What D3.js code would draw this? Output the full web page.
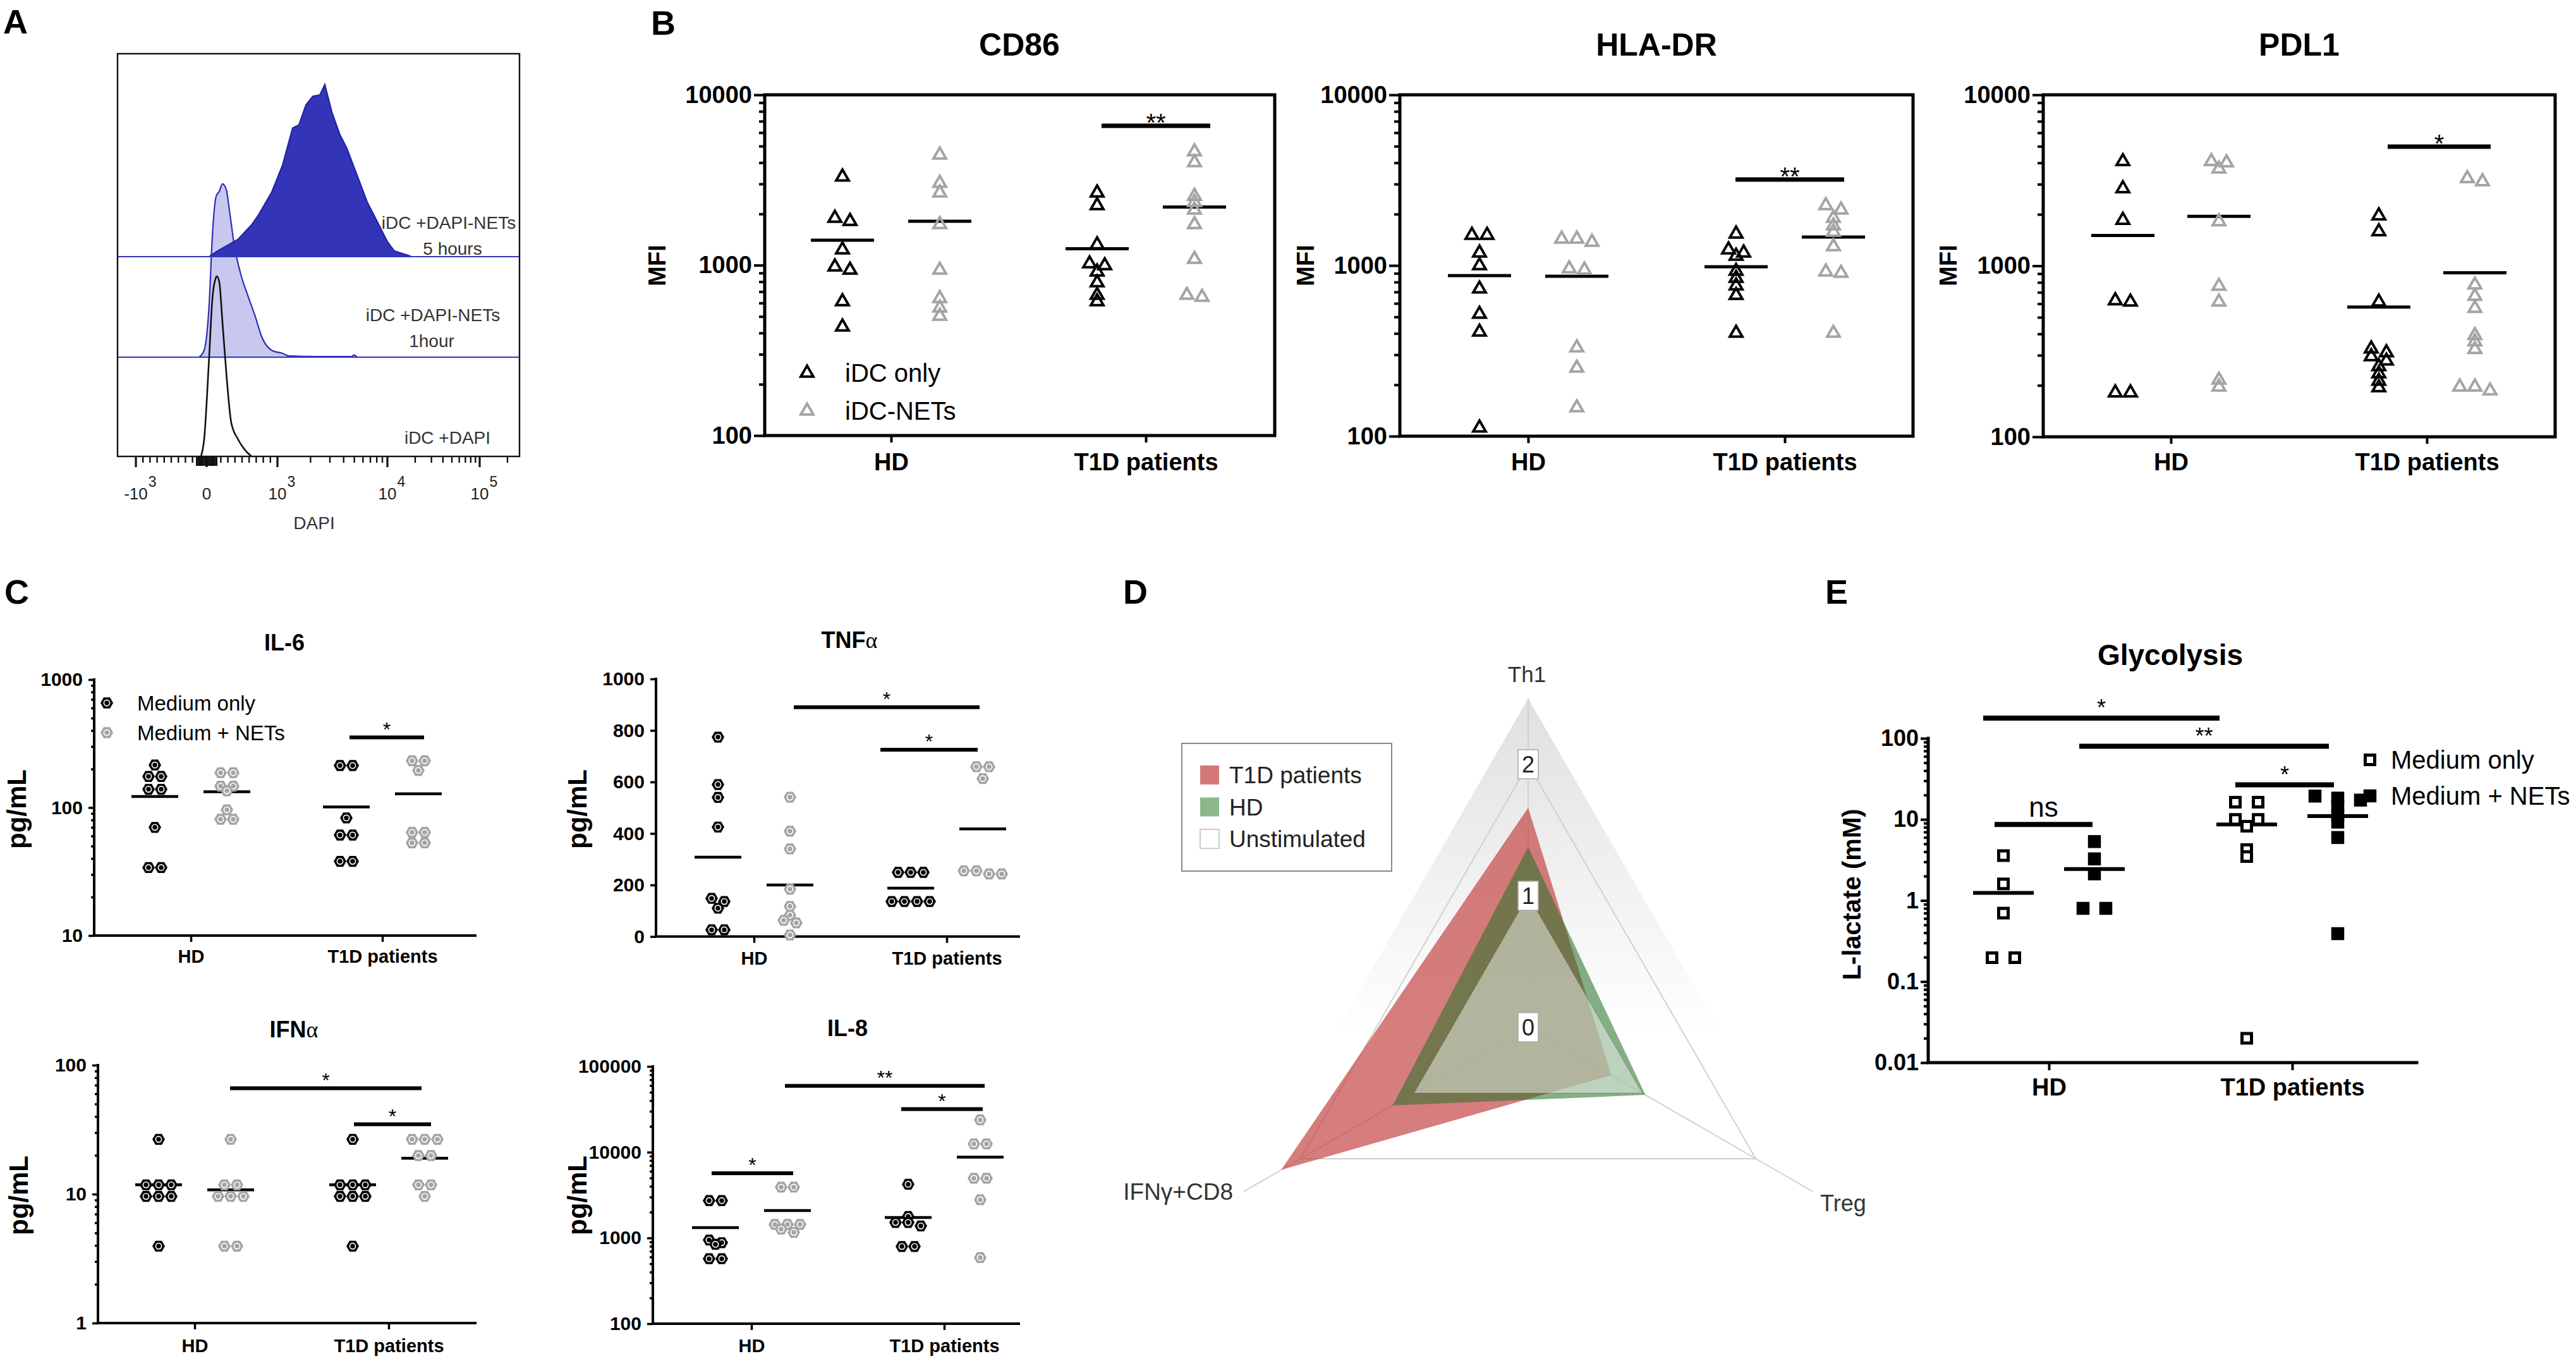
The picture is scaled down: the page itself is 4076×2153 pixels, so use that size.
<!DOCTYPE html>
<html>
<head>
<meta charset="utf-8">
<script src="https://cdn.jsdelivr.net/npm/d3@7/dist/d3.min.js"></script>
<style>
html,body{margin:0;padding:0;background:#fff;}
svg{display:block;}
</style>
</head>
<body>
<svg id="fig" width="4076" height="2153" xmlns="http://www.w3.org/2000/svg"></svg>
<script>
// ================= DATA =================
const groups = ["HD", "T1D patients"];

// ---- Panel A: flow cytometry histograms  [DAPI value, % of mode]
const histAxisTicks = [-1000, 0, 1000, 10000, 100000];
const histAxisLabels = [["-10", "3"], ["0", ""], ["10", "3"], ["10", "4"], ["10", "5"]];
const hist5h = [[36,0],[152,3.1],[446,9.7],[634,17.6],[732,23.1],[920,35.9],[1112,50.7],[1374,71.4],[1568,73.1],[1813,84.1],[2098,89],[2428,89.7],[2697,95.5],[3121,80.3],[3704,67.6],[4286,60],[5298,45.2],[6553,30.3],[8106,19.3],[10000,8.3],[11895,3.1],[16830,0.7],[18200,0]];
const hist1h = [[-107,0],[-36,3.8],[36,30],[80,66.9],[134,89.3],[179,92.1],[223,96.2],[277,93.1],[321,81.7],[393,61.4],[491,44.8],[589,33.4],[688,22.4],[777,11.4],[920,3.8],[1112,2.1],[1269,0.7],[2428,0.3],[4700,0.3],[4963,1.2],[5298,0]];
const histUnstim = [[-80,0],[-36,9.3],[36,55.9],[80,87.2],[125,98.6],[143,100],[179,96.6],[223,74.5],[277,46.6],[348,18.6],[446,9.3],[536,3.8],[634,0]];
const histLabels = ["iDC +DAPI-NETs", "5 hours", "iDC +DAPI-NETs", "1hour", "iDC +DAPI"];

// ---- Panel B: MFI   columns = [HD iDC only, HD iDC-NETs, T1D iDC only, T1D iDC-NETs]
const bSeries = ["iDC only", "iDC-NETs"];
const bTicks = [100, 1000, 10000];
const cd86 = [
  [3300, 1890, 1810, 1233, 979, 937, 612, 435],
  [4440, 3030, 2660, 1735, 937, 639, 562, 503],
  [2660, 2243, 1321, 1021, 995, 914, 790, 667, 612],
  [4640, 4010, 2545, 2340, 2113, 1735, 1085, 667, 650]];
const cd86Mean = [1400, 1810, 1248, 2197];
const cd86Sig = [{from: 2, to: 3, at: 6580, label: "**"}];
const hladr = [
  [1507, 1507, 1186, 1000, 730, 519, 408, 112],
  [1431, 1372, 1431, 958, 942, 330, 251, 147],
  [1531, 1186, 1238, 1136, 927, 843, 761, 669, 402],
  [2249, 2118, 1897, 1710, 1570, 1291, 918, 903, 402]];
const hladrMean = [873, 865, 984, 1468];
const hladrSig = [{from: 2, to: 3, at: 3190, label: "**"}];
const pdl1 = [
  [4080, 2830, 1849, 626, 615, 181, 181],
  [4015, 3690, 4080, 1815, 761, 615, 196, 215],
  [1963, 1585, 615, 311, 327, 295, 278, 258, 234, 212, 194],
  [3110, 3245, 774, 664, 565, 392, 360, 325, 196, 186, 196]];
const pdl1Mean = [1506, 1945, 574, 910];
const pdl1Sig = [{from: 2, to: 3, at: 4980, label: "*"}];

// ---- Panel C: cytokines (pg/mL)  columns = [HD medium, HD +NETs, T1D medium, T1D +NETs]
const cSeries = ["Medium only", "Medium + NETs"];
const il6 = [
  [215, 175, 175, 139, 139, 70, 34, 34],
  [187, 187, 147, 147, 135, 96, 81, 81],
  [213, 213, 83, 61, 61, 38, 38],
  [232, 232, 195, 64, 64, 53, 53]];
const il6Mean = [122, 133, 101, 128];
const il6Sig = [{from: 2, to: 3, at: 353, label: "*"}];
const tnfTicks = [0, 200, 400, 600, 800, 1000];
const tnf = [
  [774, 590, 540, 425, 148, 136, 110, 26, 26],
  [541, 409, 340, 184, 117, 83, 63, 53, 6],
  [249, 249, 249, 136, 136, 136, 136],
  [659, 659, 613, 255, 255, 243, 243]];
const tnfMean = [308, 200, 188, 418];
const tnfSig = [{from: 1, to: 3, at: 890, label: "*"}, {from: 2, to: 3, at: 725, label: "*"}];
const ifna = [
  [26.6, 11.8, 11.8, 11.8, 9.6, 9.6, 9.6, 3.95],
  [26.6, 11.8, 11.8, 9.6, 9.6, 9.6, 3.95, 3.95],
  [26.6, 11.8, 11.8, 11.8, 9.6, 9.6, 9.6, 3.95],
  [26.6, 26.6, 26.6, 19.9, 19.9, 11.8, 11.8, 9.6]];
const ifnaMean = [11.8, 10.8, 11.8, 19.0];
const ifnaSig = [{from: 1, to: 3, at: 66.2, label: "*"}, {from: 2, to: 3, at: 34.8, label: "*"}];
const il8 = [
  [2725, 2725, 946, 881, 843, 573, 573],
  [3917, 3917, 1439, 1439, 1439, 1266, 1161],
  [4227, 1778, 1515, 1515, 1380, 795, 795],
  [23780, 12480, 12480, 4966, 4966, 2786, 590]];
const il8Mean = [1321, 2084, 1733, 8750];
const il8Sig = [{from: 0, to: 1, at: 5690, label: "*"}, {from: 1, to: 3, at: 59400, label: "**"}, {from: 2, to: 3, at: 31750, label: "*"}];

// ---- Panel D: radar
const radarAxes = ["Th1", "Treg", "IFNγ+CD8"];
const radarTicks = [0, 1, 2];
const radarSeries = ["T1D patients", "HD", "Unstimulated"];
const radarT1D = [1.67, 0.73, 2.17];
const radarHD = [1.37, 1.03, 1.19];
const radarUnstim = [1, 1, 1];

// ---- Panel E: glycolysis (L-lactate mM)
const eSeries = ["Medium only", "Medium + NETs"];
const eTicks = [0.01, 0.1, 1, 10, 100];
const lactate = [
  [3.57, 1.60, 0.697, 0.197, 0.197],
  [5.33, 3.26, 2.13, 0.80, 0.80],
  [16.3, 16.3, 10.0, 8.26, 10.0, 4.25, 3.49, 0.02],
  [19.4, 18.3, 17.3, 14.7, 11.3, 9.27, 5.98, 0.39]];
const lactateMean = [1.24, 2.44, 8.67, 11.0];
const lactateSig = [{from: 0, to: 2, at: 178, label: "*"}, {from: 1, to: 3, at: 79.8, label: "**"}, {from: 2, to: 3, at: 26.7, label: "*"}, {from: 0, to: 1, at: 8.67, label: "ns"}];

// ================= DRAWING =================
const FONT = "'Liberation Sans', Arial, Helvetica, sans-serif";
const SERIF = "'Liberation Serif', 'DejaVu Serif', serif";
const svg = d3.select("#fig");
svg.append("rect").attr("width", 4076).attr("height", 2153).attr("fill", "#fff");
const defs = svg.append("defs");

function txt(g, x, y, s, fs, o = {}) {
  return g.append("text").attr("x", x).attr("y", y).text(s)
    .attr("font-family", FONT).attr("font-size", fs)
    .attr("font-weight", o.bold ? "bold" : "normal")
    .attr("text-anchor", o.anchor || "start")
    .attr("fill", o.fill || "#000");
}

// panel letters
[["A", 5, 53], ["B", 1030, 55], ["C", 7, 955], ["D", 1777, 955], ["E", 2888, 955]]
  .forEach(([l, x, y]) => txt(svg, x, y, l, 54, {bold: true}));

// ---------- markers ----------
const GRAY = "#a4a4a4";
function drawMarker(g, type, x, y) {
  if (type === "triK" || type === "triG") {
    g.append("path").attr("d", d3.symbol(d3.symbolTriangle, 170)())
      .attr("transform", `translate(${x},${y})`).attr("fill", "none")
      .attr("stroke", type === "triK" ? "#000" : GRAY).attr("stroke-width", 4).attr("stroke-linejoin", "miter");
  } else if (type === "hexK" || type === "hexG") {
    const c = type === "hexK" ? "#000" : GRAY;
    const r = 10;
    const pts = d3.range(6).map(i => [r * Math.cos(i * Math.PI / 3), r * Math.sin(i * Math.PI / 3)]);
    const gg = g.append("g").attr("transform", `translate(${x},${y})`);
    gg.append("path").attr("d", "M" + pts.map(p => p.join(",")).join("L") + "Z").attr("fill", c);
    gg.append("circle").attr("r", 4.6).attr("fill", c).attr("stroke", "#fff").attr("stroke-width", 1.7);
  } else if (type === "sqOpen") {
    g.append("path").attr("d", d3.symbol(d3.symbolSquare, 225)())
      .attr("transform", `translate(${x},${y})`).attr("fill", "#fff").attr("stroke", "#000").attr("stroke-width", 5);
  } else if (type === "sqFill") {
    g.append("path").attr("d", d3.symbol(d3.symbolSquare, 420)())
      .attr("transform", `translate(${x},${y})`).attr("fill", "#000");
  }
}

function layoutColumn(vals, y, spacing, thr) {
  const pts = vals.map(v => ({v, y: y(v)})).sort((a, b) => a.y - b.y);
  const rows = [];
  let cur = null;
  for (const p of pts) {
    if (!cur || p.y - cur[0].y > thr) { cur = [p]; rows.push(cur); } else cur.push(p);
  }
  rows.forEach(r => r.forEach((p, i) => p.dx = (i - (r.length - 1) / 2) * spacing));
  return pts;
}

// ---------- generic column-scatter panel ----------
function dotPanel(o) {
  const g = svg.append("g");
  const y = (o.log ? d3.scaleLog() : d3.scaleLinear()).domain(o.domain).range([o.yBottom, o.yTop]);
  const xc = d3.scalePoint().domain(groups).range(o.cats);
  const xs = d3.scalePoint().domain([0, 1]).range([-o.sub, o.sub]);
  const colX = i => xc(groups[Math.floor(i / 2)]) + xs(i % 2);

  if (o.box) {
    g.append("rect").attr("x", o.xLeft).attr("y", o.yTop).attr("width", o.xRight - o.xLeft)
      .attr("height", o.yBottom - o.yTop).attr("fill", "none").attr("stroke", "#000").attr("stroke-width", o.axisW);
  } else {
    g.append("path").attr("d", `M${o.xLeft},${o.yTop}V${o.yBottom}H${o.xRight}`)
      .attr("fill", "none").attr("stroke", "#000").attr("stroke-width", o.axisW).attr("stroke-linecap", "square");
  }
  if (o.log) {
    const minors = [];
    for (let d = o.domain[0]; d < o.domain[1] * 0.999; d *= 10) for (let k = 2; k <= 9; k++) minors.push(d * k);
    const ma = g.append("g").attr("transform", `translate(${o.xLeft},0)`)
      .call(d3.axisLeft(y).tickValues(minors).tickFormat("").tickSize(o.minorL).tickSizeOuter(0));
    ma.select(".domain").remove();
    ma.selectAll("line").attr("stroke", "#000").attr("stroke-width", o.tickW);
  }
  const ya = g.append("g").attr("transform", `translate(${o.xLeft},0)`)
    .call(d3.axisLeft(y).tickValues(o.ticks).tickFormat(d => String(d)).tickSize(o.tickL).tickPadding(o.tickPad).tickSizeOuter(0));
  ya.select(".domain").remove();
  ya.selectAll("line").attr("stroke", "#000").attr("stroke-width", o.tickW);
  ya.selectAll("text").attr("font-family", FONT).attr("font-size", o.tickFs).attr("font-weight", "bold").attr("fill", "#000");
  const xa = g.append("g").attr("transform", `translate(0,${o.yBottom})`)
    .call(d3.axisBottom(xc).tickSize(o.xTickL).tickSizeOuter(0)
      .tickPadding(o.catBase - o.yBottom - o.xTickL - 0.71 * o.catFs));
  xa.select(".domain").remove();
  xa.selectAll("line").attr("stroke", "#000").attr("stroke-width", o.tickW);
  xa.selectAll("text").attr("font-family", FONT).attr("font-size", o.catFs).attr("font-weight", "bold").attr("fill", "#000");

  o.means.forEach((m, i) => {
    g.append("line").attr("x1", colX(i) - o.meanHalf).attr("x2", colX(i) + o.meanHalf)
      .attr("y1", y(m)).attr("y2", y(m)).attr("stroke", "#000").attr("stroke-width", o.meanW);
  });
  o.values.forEach((vals, i) => {
    layoutColumn(vals, y, o.spacing, o.thr).forEach(p => drawMarker(g, o.marker[i % 2], colX(i) + p.dx, p.y));
  });
  o.sig.forEach((s, j) => {
    const x1 = colX(s.from) + o.sigExt[j][0], x2 = colX(s.to) + o.sigExt[j][1], yy = y(s.at);
    g.append("line").attr("x1", x1).attr("x2", x2).attr("y1", yy).attr("y2", yy)
      .attr("stroke", "#000").attr("stroke-width", o.sigW);
    if (s.label === "ns") {
      txt(g, (x1 + x2) / 2, yy - o.starGap + 0.26 * 44, "ns", 44, {anchor: "middle"});
    } else {
      txt(g, (x1 + x2) / 2, yy - o.starGap + 0.57 * o.starFs, s.label, o.starFs, {anchor: "middle"});
    }
  });
  const tt = g.append("text").attr("x", o.titleX).attr("y", o.titleY).attr("text-anchor", "middle")
    .attr("font-family", FONT).attr("font-size", o.titleFs).attr("font-weight", "bold");
  o.title.forEach(s => {
    const ts = tt.append("tspan").text(s.t);
    if (s.serif) ts.attr("font-family", SERIF).attr("font-weight", "normal");
  });
  g.append("text").attr("transform", `translate(${o.ylabX},${o.ylabY}) rotate(-90)`)
    .attr("text-anchor", "middle").attr("font-family", FONT).attr("font-size", o.ylabFs)
    .attr("font-weight", "bold").text(o.ylab);
  return g;
}

// ---------- Panel A ----------
(function panelA() {
  const g = svg.append("g");
  const L = 186, R = 822, T = 85, B = 722;
  const tA = v => Math.abs(v) <= 1000 ? v / 1000 : Math.sign(v) * (1 + Math.log10(Math.abs(v) / 1000));
  const xA = d3.scaleLinear().domain([-1, 0, 1, 2, 3]).range([215, 327, 439, 613, 759]);
  const X = v => xA(tA(v));
  const hA = d3.scaleLinear().domain([0, 100]).range([0, 285]);
  const base5 = 406, base1 = 565;
  defs.append("clipPath").attr("id", "clipA").append("rect").attr("x", L).attr("y", T).attr("width", R - L).attr("height", B - T);
  const plot = g.append("g").attr("clip-path", "url(#clipA)");
  const area = base => d3.area().x(d => X(d[0])).y0(base).y1(d => base - hA(d[1]));
  const line = base => d3.line().x(d => X(d[0])).y(d => base - hA(d[1]));

  plot.append("path").datum(hist1h).attr("d", area(base1).curve(d3.curveMonotoneX)).attr("fill", "#c8c8ee");
  plot.append("path").datum(hist1h).attr("d", line(base1).curve(d3.curveMonotoneX))
    .attr("fill", "none").attr("stroke", "#2d2db8").attr("stroke-width", 2.2);
  plot.append("line").attr("x1", L).attr("x2", R).attr("y1", base1).attr("y2", base1).attr("stroke", "#3535c0").attr("stroke-width", 2.2);
  plot.append("path").datum(hist5h).attr("d", area(base5)).attr("fill", "#3434b8");
  plot.append("path").datum(hist5h).attr("d", line(base5)).attr("fill", "none").attr("stroke", "#2222a6").attr("stroke-width", 2.2);
  plot.append("line").attr("x1", L).attr("x2", R).attr("y1", base5).attr("y2", base5).attr("stroke", "#3535c0").attr("stroke-width", 2.2);
  plot.append("path").datum(histUnstim).attr("d", line(B).curve(d3.curveMonotoneX))
    .attr("fill", "none").attr("stroke", "#111").attr("stroke-width", 2.6);
  g.append("rect").attr("x", L).attr("y", T).attr("width", R - L).attr("height", B - T)
    .attr("fill", "none").attr("stroke", "#111").attr("stroke-width", 2.4);

  const minors = [...d3.range(-900, -100, 100), ...d3.range(200, 1000, 100), ...d3.range(2000, 10000, 1000),
    ...d3.range(20000, 100000, 10000), 200000];
  const cluster = d3.range(-140, 141, 20).filter(v => v !== 0);
  const tk = (v, len, w) => g.append("line").attr("x1", X(v)).attr("x2", X(v)).attr("y1", B).attr("y2", B + len)
    .attr("stroke", "#111").attr("stroke-width", w);
  minors.forEach(v => tk(v, 10, 2.4));
  cluster.forEach(v => tk(v, 15, 2.6));
  histAxisTicks.forEach(v => tk(v, 17, 3.2));
  histAxisTicks.forEach((v, i) => {
    const [b, s] = histAxisLabels[i];
    const t = txt(g, X(v), 790, b, 26, {anchor: "middle", fill: "#222"});
    if (s) {
      const w = t.node().getComputedTextLength();
      txt(g, X(v) + w / 2 + 1, 770, s, 23, {fill: "#222"});
    }
  });
  txt(g, 497, 837, "DAPI", 28, {anchor: "middle", fill: "#333"});

  const lp = [[710, 362], [716, 403], [685, 508], [683, 549], [708, 702]];
  histLabels.forEach((s, i) => txt(g, lp[i][0], lp[i][1], s, 28, {anchor: "middle", fill: "#333"}));
})();

// ---------- Panel B ----------
const bCommon = {
  log: true, domain: [100, 10000], ticks: bTicks, box: true, axisW: 5, tickW: 4, tickL: 17, minorL: 9,
  tickFs: 38, tickPad: 3, xTickL: 11, catFs: 38, catBase: 744, yTop: 150, titleY: 88, titleFs: 50,
  ylab: "MFI", ylabY: 420, ylabFs: 38, meanHalf: 50, meanW: 5, marker: ["triK", "triG"],
  spacing: 24, thr: 8, sigW: 7, starFs: 40, starGap: 14
};
dotPanel({...bCommon, title: [{t: "CD86"}], titleX: 1613, ylabX: 1053, xLeft: 1210, xRight: 2017, yBottom: 689,
  cats: [1410, 1813], sub: 77, values: cd86, means: cd86Mean, sig: cd86Sig, sigExt: [[7, 25]]});
dotPanel({...bCommon, title: [{t: "HLA-DR"}], titleX: 2621, ylabX: 2079, xLeft: 2215, xRight: 3027, yBottom: 690,
  cats: [2418, 2824], sub: 77, values: hladr, means: hladrMean, sig: hladrSig, sigExt: [[-1, 17]]});
dotPanel({...bCommon, title: [{t: "PDL1"}], titleX: 3638, ylabX: 3096, xLeft: 3233, xRight: 4043, yBottom: 691,
  cats: [3435, 3840], sub: 76, values: pdl1, means: pdl1Mean, sig: pdl1Sig, sigExt: [[14, 25]]});
(function () {
  const g = svg.append("g");
  bSeries.forEach((s, i) => {
    drawMarker(g, i === 0 ? "triK" : "triG", 1277, 590 + i * 60);
    txt(g, 1337, 604 + i * 60, s, 40);
  });
})();

// ---------- Panel C ----------
const cCommon = {
  box: false, axisW: 4, tickW: 3.5, tickL: 9, minorL: 5, tickFs: 30, tickPad: 9, xTickL: 10, catFs: 29,
  titleFs: 36, ylab: "pg/mL", ylabFs: 42, sub: 57, meanHalf: 37, meanW: 4.5, marker: ["hexK", "hexG"],
  spacing: 20, thr: 6, sigW: 6, starFs: 32, starGap: 20
};
dotPanel({...cCommon, title: [{t: "IL-6"}], titleX: 450, titleY: 1029, ylabX: 41, ylabY: 1280,
  xLeft: 149, xRight: 752, yTop: 1075, yBottom: 1480, log: true, domain: [10, 1000], ticks: [10, 100, 1000],
  catBase: 1523, cats: [302, 605], values: il6, means: il6Mean, sig: il6Sig, sigExt: [[5, 9]]});
dotPanel({...cCommon, title: [{t: "TNF"}, {t: "α", serif: true}], titleX: 1344, titleY: 1025, ylabX: 928, ylabY: 1280,
  xLeft: 1038, xRight: 1612, yTop: 1074, yBottom: 1481.5, log: false, domain: [0, 1000], ticks: tnfTicks,
  catBase: 1526, cats: [1193, 1498], values: tnf, means: tnfMean, sig: tnfSig, sigExt: [[6, -5], [-48, -8]]});
dotPanel({...cCommon, title: [{t: "IFN"}, {t: "α", serif: true}], titleX: 465, titleY: 1641, ylabX: 44, ylabY: 1891,
  xLeft: 155, xRight: 752, yTop: 1685, yBottom: 2093, log: true, domain: [1, 100], ticks: [1, 10, 100],
  catBase: 2139, cats: [308, 615], values: ifna, means: ifnaMean, sig: ifnaSig, sigExt: [[-1, -5], [2, 10]]});
dotPanel({...cCommon, title: [{t: "IL-8"}], titleX: 1341, titleY: 1639, ylabX: 928, ylabY: 1891,
  xLeft: 1033, xRight: 1612, yTop: 1687, yBottom: 2094, log: true, domain: [100, 100000], ticks: [100, 1000, 10000, 100000],
  catBase: 2139, cats: [1189, 1494], values: il8, means: il8Mean, sig: il8Sig, sigExt: [[-6, 9], [-4, 7], [-11, 4]]});
(function () {
  const g = svg.append("g");
  cSeries.forEach((s, i) => {
    drawMarker(g, i === 0 ? "hexK" : "hexG", 169, 1112 + i * 47);
    txt(g, 217, 1124 + i * 47, s, 33);
  });
})();

// ---------- Panel D : radar ----------
(function panelD() {
  const cx = 2418, cy = 1625;
  const g = svg.append("g").attr("transform", `translate(${cx},${cy})`);
  const rS = d3.scaleLinear().domain([0, 2.5]).range([0, 520]);
  const angle = d3.scaleLinear().domain([0, radarAxes.length]).range([0, 2 * Math.PI]);
  const radial = d3.lineRadial().angle((d, i) => angle(i)).radius(d => rS(d)).curve(d3.curveLinearClosed);
  const grad = defs.append("linearGradient").attr("id", "radarBg").attr("x1", 0).attr("y1", 0).attr("x2", 0).attr("y2", 1);
  grad.append("stop").attr("offset", 0).attr("stop-color", "#e0e0e0");
  grad.append("stop").attr("offset", 0.68).attr("stop-color", "#ffffff");
  const rMax = rS.domain()[1];
  g.append("path").attr("d", radial(radarAxes.map(() => rMax))).attr("fill", "url(#radarBg)");
  radarTicks.filter(v => v > 0).forEach(v => {
    g.append("path").attr("d", radial(radarAxes.map(() => v))).attr("fill", "none").attr("stroke", "#cdcdcd").attr("stroke-width", 1.8);
  });
  radarAxes.forEach((a, i) => {
    const r = rS(rMax), t = angle(i);
    g.append("line").attr("x1", 0).attr("y1", 0).attr("x2", r * Math.sin(t)).attr("y2", -r * Math.cos(t))
      .attr("stroke", "#cdcdcd").attr("stroke-width", 1.8);
  });
  const fills = ["rgba(196,70,70,0.70)", "rgba(45,115,45,0.58)", "rgba(255,255,255,0.45)"];
  [radarT1D, radarHD, radarUnstim].forEach((d, k) => {
    g.append("path").attr("d", radial(d)).attr("fill", fills[k]);
  });
  radarTicks.forEach(v => {
    const yy = -rS(v);
    g.append("rect").attr("x", -16).attr("y", yy - 23).attr("width", 32).attr("height", 46)
      .attr("fill", "#fff").attr("stroke", "#aaa").attr("stroke-width", 1.5);
    txt(g, 0, yy + 13, String(v), 36, {anchor: "middle", fill: "#222"});
  });
  txt(svg, 2416, 1079, radarAxes[0], 35, {anchor: "middle", fill: "#333"});
  txt(svg, 2880, 1916, radarAxes[1], 36, {fill: "#333"});
  txt(svg, 1951, 1898, radarAxes[2], 37, {anchor: "end", fill: "#333"});
  const lg = svg.append("g");
  lg.append("rect").attr("x", 1870).attr("y", 1176).attr("width", 332).attr("height", 202)
    .attr("fill", "#fff").attr("stroke", "#8a8a8a").attr("stroke-width", 2);
  const sw = ["#d27878", "#8ab88a", "#ffffff"];
  radarSeries.forEach((s, i) => {
    const c = 1226 + i * 50.5;
    lg.append("rect").attr("x", 1899).attr("y", c - 15).attr("width", 30).attr("height", 30)
      .attr("fill", sw[i]).attr("stroke", i === 2 ? "#bbb" : "none").attr("stroke-width", 1.5);
    txt(lg, 1945, c + 13, s, 37, {fill: "#222"});
  });
})();

// ---------- Panel E ----------
dotPanel({
  title: [{t: "Glycolysis"}], titleX: 3434, titleY: 1052, titleFs: 46,
  ylab: "L-lactate (mM)", ylabX: 2944, ylabY: 1415, ylabFs: 40,
  xLeft: 3051, xRight: 3824, yTop: 1168, yBottom: 1681, log: true, domain: [0.01, 100], ticks: eTicks,
  box: false, axisW: 5, tickW: 4, tickL: 12, minorL: 7, tickFs: 36, tickPad: 3, xTickL: 12, catFs: 38, catBase: 1733,
  cats: [3242, 3627], sub: 72, values: lactate, means: lactateMean, meanHalf: 48, meanW: 6,
  marker: ["sqOpen", "sqFill"], spacing: 36, thr: 8, sig: lactateSig,
  sigExt: [[-32, -43], [-24, -14], [-18, -6], [-14, -3]], sigW: 8, starFs: 36, starGap: 24
});
(function () {
  const g = svg.append("g");
  eSeries.forEach((s, i) => {
    drawMarker(g, i === 0 ? "sqOpen" : "sqFill", 3750, 1202 + i * 57);
    txt(g, 3783, 1216 + i * 57, s, 40);
  });
})();
</script>
</body>
</html>
